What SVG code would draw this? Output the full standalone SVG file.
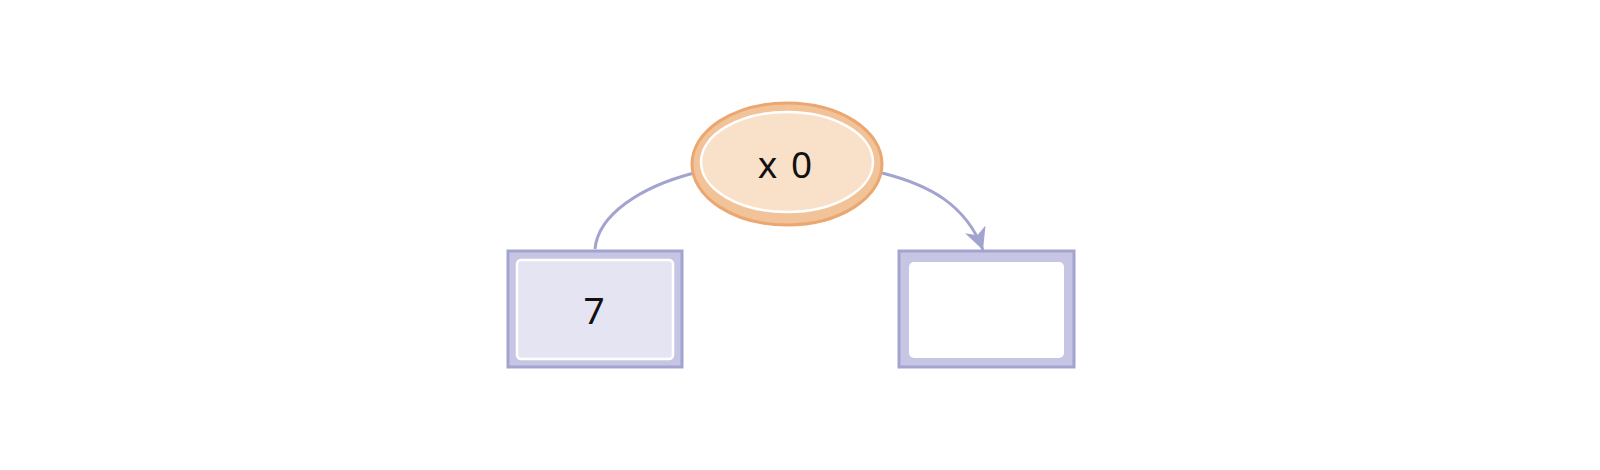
<svg xmlns="http://www.w3.org/2000/svg" width="1600" height="470" viewBox="0 0 1600 470">
<style>
.edge{fill:none;stroke:#A3A3CF;stroke-width:3}
.lbl{font-family:"Noto Sans",sans-serif;font-size:37px;fill:#111;text-anchor:middle;dominant-baseline:central}
.boxo{fill:#C6C6E4;stroke:#A3A3CF;stroke-width:3}
</style>
<defs>
<marker id="arr" markerUnits="userSpaceOnUse" markerWidth="22" markerHeight="22" refX="18" refY="9" orient="auto" viewBox="0 0 18 18">
<path d="M0,0 L18,9 L0,18 L5,9 z" fill="#A3A3CF"/>
</marker>
</defs>
<rect width="1600" height="470" fill="#fff"/>
<g id="connectors">
<path class="edge" d="M694,173 C640,187 598,215 595,249"/>
<path class="edge" d="M882,173 C930,185 966,205 983,250" marker-end="url(#arr)"/>
</g>
<g id="node-root">
<ellipse cx="787" cy="164" rx="95" ry="61" fill="#F2C398" stroke="#EBA771" stroke-width="3"/>
<ellipse cx="787" cy="162" rx="86" ry="50" fill="#F9E1C9" stroke="#fff" stroke-width="2.5"/>
<text class="lbl" x="786" y="163" letter-spacing="2">x 0</text>
</g>
<g id="node-left">
<rect class="boxo" x="508" y="251" width="174" height="116"/>
<rect x="517" y="260" width="156" height="99" rx="4" fill="#E4E4F2" stroke="#fff" stroke-width="2.5"/>
<text class="lbl" x="594" y="309">7</text>
</g>
<g id="node-right">
<rect class="boxo" x="899" y="251" width="175" height="116"/>
<rect x="909" y="262" width="155" height="96" rx="5" fill="#fff"/>
</g>
</svg>
